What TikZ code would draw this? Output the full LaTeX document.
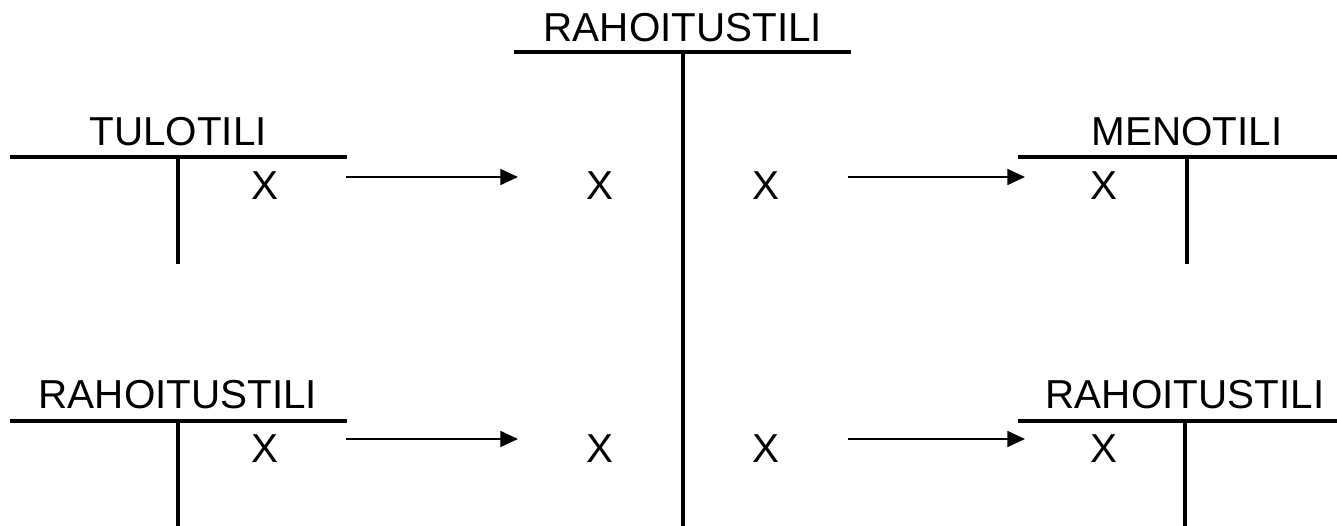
\documentclass[tikz,border=0pt]{standalone}
\usepackage{fontspec}
\setmainfont{Liberation Sans}
\usetikzlibrary{arrows.meta}
\tikzset{
  tili/.style={line width=2pt},
  siirto/.style={line width=1.2pt,-{Triangle[length=10pt,width=9pt]}},
  otsikko/.style={anchor=base,inner sep=0pt,font=\fontsize{23}{27}\selectfont},
  merkki/.style={anchor=base,inner sep=0pt,font=\fontsize{23}{27}\selectfont}
}
\begin{document}
\begin{tikzpicture}[x=0.02cm,y=-0.02cm]
    \useasboundingbox (0,0) rectangle (1337,526);
    % otsikot
    \node[otsikko] (rahaK) at (683,42) {RAHOITUSTILI};
    \node[otsikko] (tulo) at (178,146) {TULOTILI};
    \node[otsikko] (meno) at (1187,146) {MENOTILI};
    \node[otsikko] (rahaV) at (178,408) {RAHOITUSTILI};
    \node[otsikko] (rahaO) at (1185,408) {RAHOITUSTILI};
    % tilit
    \draw[tili] (514,52) -- (851,52);
    \draw[tili] (683,52) -- (683,526);
    \draw[tili] (10,157) -- (347,157);
    \draw[tili] (178,157) -- (178,264);
    \draw[tili] (1018,157) -- (1337,157);
    \draw[tili] (1187,157) -- (1187,264);
    \draw[tili] (10,421) -- (347,421);
    \draw[tili] (178,421) -- (178,526);
    \draw[tili] (1018,421) -- (1337,421);
    \draw[tili] (1185,421) -- (1185,526);
    % merkinnat
    \node[merkki] (tuloX) at (265,200) {X};
    \node[merkki] (kX1) at (600,200) {X};
    \node[merkki] (kX2) at (766,200) {X};
    \node[merkki] (menoX) at (1104,200) {X};
    \node[merkki] (rahaVX) at (265,462) {X};
    \node[merkki] (kX3) at (600,462) {X};
    \node[merkki] (kX4) at (766,462) {X};
    \node[merkki] (rahaOX) at (1104,462) {X};
    % siirrot
    \coordinate (s1) at (346,177);
    \coordinate (e1) at (518,177);
    \coordinate (s2) at (848,177);
    \coordinate (e2) at (1025,177);
    \coordinate (s3) at (346,439);
    \coordinate (e3) at (518,439);
    \coordinate (s4) at (848,439);
    \coordinate (e4) at (1025,439);
    \draw[siirto] (s1) -- (e1);
    \draw[siirto] (s2) -- (e2);
    \draw[siirto] (s3) -- (e3);
    \draw[siirto] (s4) -- (e4);
\end{tikzpicture}
\end{document}
